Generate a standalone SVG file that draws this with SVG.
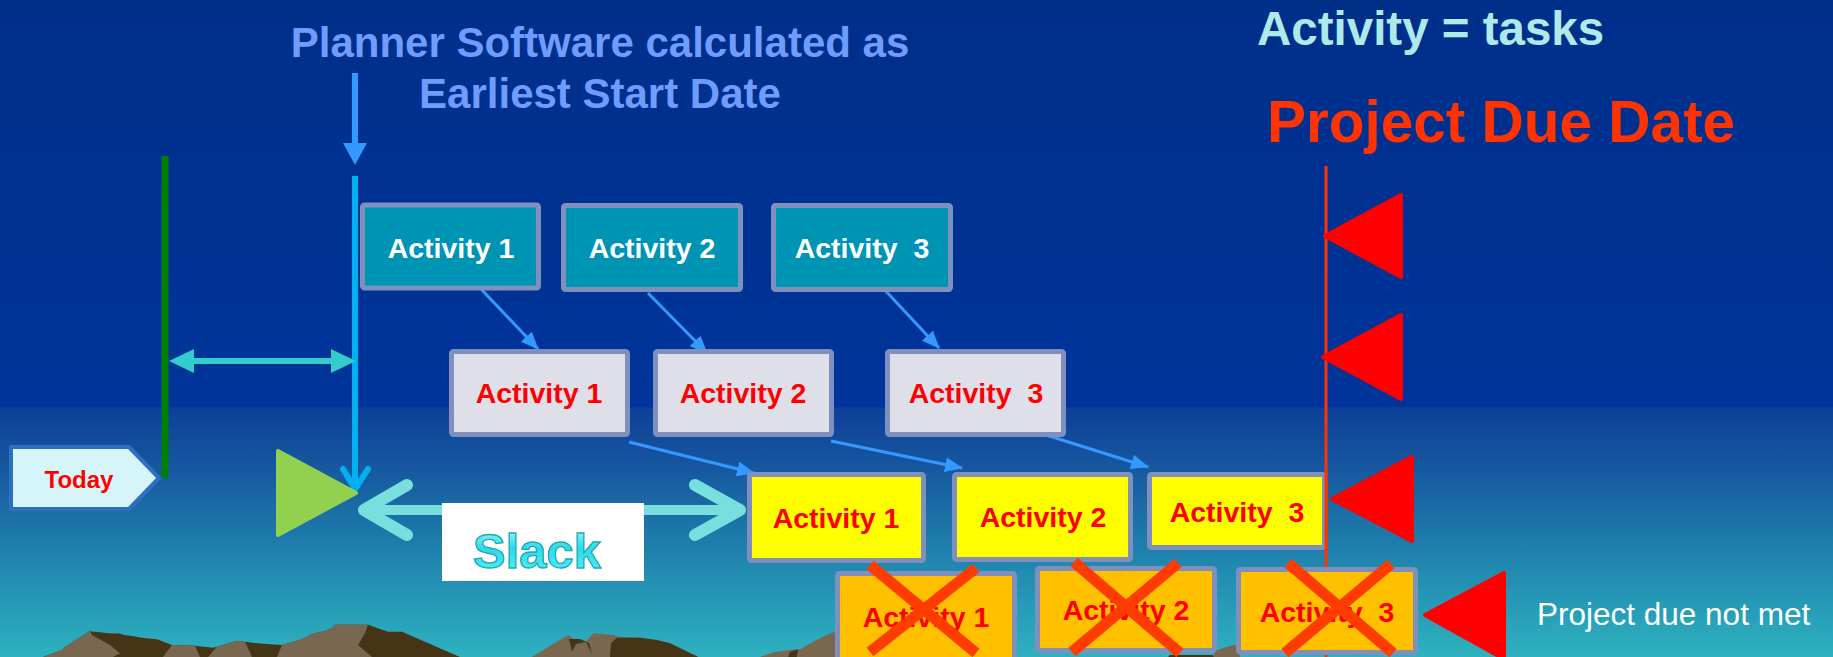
<svg xmlns="http://www.w3.org/2000/svg" width="1833" height="657" viewBox="0 0 1833 657">
  <defs>
    <linearGradient id="sky" x1="0" y1="0" x2="0" y2="657" gradientUnits="userSpaceOnUse">
      <stop offset="0" stop-color="#002f8a"/>
      <stop offset="0.619" stop-color="#00349a"/>
      <stop offset="0.621" stop-color="#0e3f98"/>
      <stop offset="0.71" stop-color="#16579f"/>
      <stop offset="0.863" stop-color="#2189b0"/>
      <stop offset="1" stop-color="#2eb2c0"/>
    </linearGradient>
    <linearGradient id="slackFill" x1="0" y1="0" x2="0" y2="1">
      <stop offset="0" stop-color="#b8ffff"/>
      <stop offset="0.45" stop-color="#2fd8e6"/>
      <stop offset="1" stop-color="#5cf2f6"/>
    </linearGradient>
    <marker id="head" markerUnits="userSpaceOnUse" markerWidth="20" markerHeight="16" refX="17" refY="7.5" orient="auto">
      <path d="M0,0 L18,7.5 L0,15 z" fill="#3399ff"/>
    </marker>
    <style>
      .txt { font-family: "Liberation Sans", Arial, sans-serif; font-weight: bold; text-anchor: middle; }
      .box { stroke: #7f90bd; stroke-width: 5; }
      .teal { fill: #0094b4; }
      .grey { fill: #dfdfea; }
      .yellow { fill: #ffff00; }
      .orange { fill: #ffc000; }
      .white { fill: #ffffff; font-size: 28.5px; }
      .red { fill: #ff0000; font-size: 28.5px; }
      .conn { stroke: #3399ff; stroke-width: 3; fill: none; marker-end: url(#head); }
      .flag { fill: #ff0000; stroke: #ff0000; stroke-width: 4; stroke-linejoin: round; }
      .cross { stroke: #ff3c00; stroke-width: 11; }
      .light { fill: #7a6750; }
      .dark { fill: #463416; }
    </style>
  </defs>

  <!-- sky -->
  <rect x="0" y="0" width="1833" height="657" fill="url(#sky)"/>

  <!-- mountain ranges along the horizon -->
  <g id="mountains">
    <polygon class="dark" points="43,657 62,650 65,647 90,631 92,631.5 112,633.5 120,633.5 124,635 133,636 140,637.5 158,639.5 163,641.5 172,645 195,645.7 213,647.7 217,646.7 235,641.3 245,641.7 257,643.3 267,644 282,645 302,639.3 312,634 322,631.7 332,628.3 335,624.7 368,624.7 380,629 388,631.7 402,631.7 460,657"/>
    <polygon class="light" points="43,657 62,650 65,647 90,631 92,635 110,645 120,653.3 113,657"/>
    <polygon class="light" points="163,657 172,645 195,645.7 200,657"/>
    <polygon class="light" points="208,657 217,646.7 235,641.3 245,641.7 252,657"/>
    <polygon class="light" points="277,657 282,645 302,639.3 312,634 322,631.7 332,628.3 335,624.7 368,624.7 365,633.3 358,645 372,657"/>

    <polygon class="light" points="531.7,657 568.3,635 576.7,641 586.7,641 590,636.7 594.3,633.3 613.3,635 620,636.7 640,637.7 656.7,640 670,643.3 698.3,657"/>
    <polygon class="dark" points="610,657 611,643.3 616.7,637.7 640,637.7 656.7,640 670,643.3 698.3,657"/>
    <polygon class="dark" points="569,639 572,652 576,644 586,642 592,654 589,643 580,639"/>

    <polygon class="light" points="760,657 773.3,652.3 790,650 800,649.3 813.3,641.7 826.7,635 840,630 840,657"/>
    <polygon class="dark" points="788.3,657 790,651.7 798.3,649.3 796.7,657"/>

    <polygon class="dark" points="1168,657 1170,655 1213,655 1214,657"/>
    <polygon class="light" points="1214,651 1233,645 1240,645 1240,657 1214,657"/>
  </g>

  <!-- headings -->
  <g id="heading-earliest">
    <text class="txt" x="600" y="57" font-size="42" fill="#6f9dff">Planner Software calculated as</text>
    <text class="txt" x="600" y="108" font-size="42" fill="#6f9dff">Earliest Start Date</text>
  </g>
  <g id="heading-activity">
    <text class="txt" x="1257" y="45" font-size="47.5" fill="#aeeaea" style="text-anchor:start">Activity = tasks</text>
  </g>
  <g id="heading-due">
    <text class="txt" x="1267" y="142" font-size="58.5" fill="#ff3300" style="text-anchor:start">Project Due Date</text>
  </g>

  <!-- markers of time: today, earliest start, due date -->
  <g id="today-line">
    <line x1="165" y1="156" x2="165" y2="478" stroke="#008000" stroke-width="7"/>
  </g>
  <g id="earliest-start-line">
    <line x1="355" y1="73" x2="355" y2="145" stroke="#3399ff" stroke-width="6"/>
    <polygon points="343,143 367,143 355,165" fill="#3399ff"/>
    <line x1="355" y1="176" x2="355" y2="488" stroke="#00b0f0" stroke-width="6"/>
    <polyline points="343,469 355,489 368,469" fill="none" stroke="#00b0f0" stroke-width="6" stroke-linecap="round" stroke-linejoin="round"/>
  </g>
  <g id="lead-time">
    <line x1="190" y1="361" x2="335" y2="361" stroke="#33cccc" stroke-width="6"/>
    <polygon points="169,361 194,349 194,373" fill="#33cccc"/>
    <polygon points="356,361 331,349 331,373" fill="#33cccc"/>
  </g>
  <g id="due-date-line">
    <line x1="1326" y1="166" x2="1326" y2="657" stroke="#ff3300" stroke-width="3"/>
  </g>

  <g id="today">
    <polygon points="11,447 129,447 159,478 129,509 11,509" fill="#d6f5f8" stroke="#2e6fc0" stroke-width="4" stroke-linejoin="round"/>
    <text class="txt" x="79" y="488" font-size="24" fill="#ff0000">Today</text>
  </g>

  <g id="start-flag">
    <polygon points="278,451 356,493 278,535" fill="#92d050" stroke="#92d050" stroke-width="4" stroke-linejoin="round"/>
  </g>

  <!-- slack between the earliest start and the first task -->
  <g id="slack">
    <line x1="366" y1="510" x2="738" y2="510" stroke="#78dede" stroke-width="10"/>
    <polyline points="407,485 364,510 407,535" fill="none" stroke="#78dede" stroke-width="12" stroke-linecap="round" stroke-linejoin="round"/>
    <polyline points="695,485 740,510 695,535" fill="none" stroke="#78dede" stroke-width="12" stroke-linecap="round" stroke-linejoin="round"/>
    <rect x="442" y="503" width="202" height="78" fill="#ffffff"/>
    <text class="txt" x="537" y="568" font-size="49" fill="url(#slackFill)" stroke="#1aa9b9" stroke-width="1.3">Slack</text>
  </g>

  <!-- connectors -->
  <g id="connectors">
    <line class="conn" x1="481" y1="289" x2="538" y2="349"/>
    <line class="conn" x1="648" y1="293" x2="707" y2="353"/>
    <line class="conn" x1="882" y1="287" x2="939" y2="348"/>
    <line class="conn" x1="629" y1="442" x2="754" y2="473"/>
    <line class="conn" x1="831" y1="441" x2="962" y2="468"/>
    <line class="conn" x1="1046" y1="435" x2="1148" y2="467"/>
  </g>

  <!-- planned schedule -->
  <g id="plan-activity-1">
    <rect class="box teal" x="362.5" y="205" width="176" height="83" rx="2"/>
    <text class="txt white" x="451" y="258">Activity 1</text>
  </g>
  <g id="plan-activity-2">
    <rect class="box teal" x="563.5" y="205.5" width="177" height="84" rx="2"/>
    <text class="txt white" x="652" y="258">Activity 2</text>
  </g>
  <g id="plan-activity-3">
    <rect class="box teal" x="773.5" y="205.5" width="177" height="84" rx="2"/>
    <text class="txt white" x="862" y="258" xml:space="preserve">Activity  3</text>
  </g>

  <!-- first slip -->
  <g id="slip1-activity-1">
    <rect class="box grey" x="451.5" y="351.5" width="176" height="83" rx="2"/>
    <text class="txt red" x="539" y="403">Activity 1</text>
  </g>
  <g id="slip1-activity-2">
    <rect class="box grey" x="655.5" y="351.5" width="176" height="83" rx="2"/>
    <text class="txt red" x="743" y="403">Activity 2</text>
  </g>
  <g id="slip1-activity-3">
    <rect class="box grey" x="887.5" y="351.5" width="176" height="83" rx="2"/>
    <text class="txt red" x="976" y="403" xml:space="preserve">Activity  3</text>
  </g>

  <!-- second slip -->
  <g id="slip2-activity-1">
    <rect class="box yellow" x="749.5" y="474.5" width="174" height="86" rx="2"/>
    <text class="txt red" x="836" y="528">Activity 1</text>
  </g>
  <g id="slip2-activity-2">
    <rect class="box yellow" x="954.5" y="474.5" width="176" height="85" rx="2"/>
    <text class="txt red" x="1043" y="527">Activity 2</text>
  </g>
  <g id="slip2-activity-3">
    <rect class="box yellow" x="1149.5" y="474.5" width="175" height="73" rx="2"/>
    <text class="txt red" x="1237" y="522" xml:space="preserve">Activity  3</text>
    <line x1="1326" y1="472" x2="1326" y2="552" stroke="#ff3300" stroke-width="3"/>
  </g>

  <!-- due date flags -->
  <g id="flag-plan">
    <polygon class="flag" points="1325,236 1401,195 1401,277"/>
  </g>
  <g id="flag-slip1">
    <polygon class="flag" points="1323,357 1401,315 1401,399"/>
  </g>
  <g id="flag-slip2">
    <polygon class="flag" points="1332,499 1412,457 1412,541"/>
  </g>

  <!-- third slip: missed -->
  <g id="slip3-activity-1">
    <rect class="box orange" x="837.5" y="573.5" width="177" height="86" rx="2"/>
    <text class="txt red" x="926" y="627">Activity 1</text>
    <line class="cross" x1="870" y1="565" x2="976" y2="653"/>
    <line class="cross" x1="976" y1="568" x2="870" y2="652"/>
  </g>
  <g id="slip3-activity-2">
    <rect class="box orange" x="1037.5" y="568.5" width="177" height="82" rx="2"/>
    <text class="txt red" x="1126" y="620">Activity 2</text>
    <line class="cross" x1="1074" y1="562" x2="1180" y2="653"/>
    <line class="cross" x1="1178" y1="563" x2="1072" y2="652"/>
  </g>
  <g id="slip3-activity-3">
    <rect class="box orange" x="1238.5" y="569.5" width="177" height="83" rx="2"/>
    <text class="txt red" x="1327" y="622" xml:space="preserve">Activity  3</text>
    <line class="cross" x1="1288" y1="563" x2="1393" y2="653"/>
    <line class="cross" x1="1391" y1="564" x2="1285" y2="653"/>
  </g>

  <g id="flag-missed">
    <polygon class="flag" points="1425,615 1504,573 1504,659"/>
    <text x="1537" y="625" font-family="Liberation Sans, Arial, sans-serif" font-size="31.5" fill="#ffffff">Project due not met</text>
  </g>
</svg>
